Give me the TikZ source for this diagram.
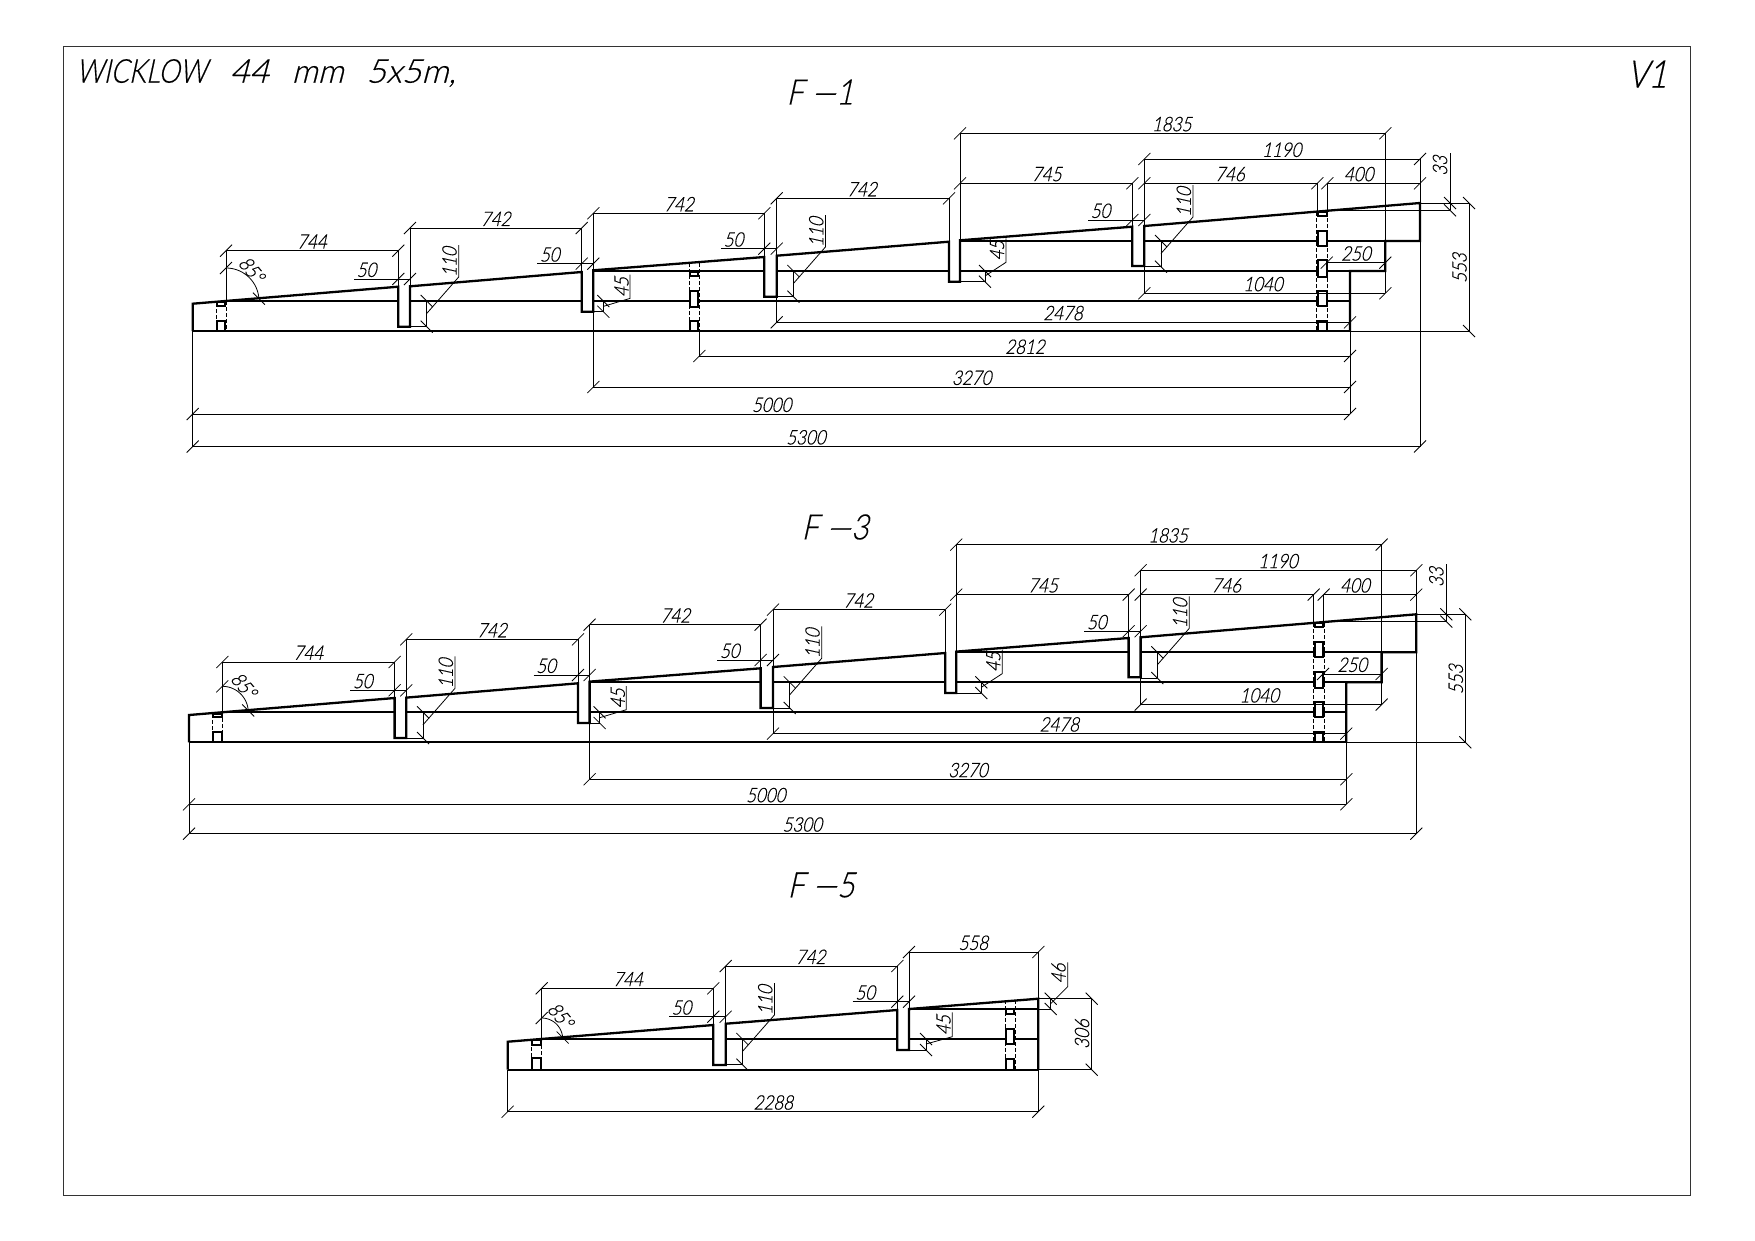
\documentclass[tikz,border=0pt]{standalone}
\usepackage{fontspec}
\usepackage{graphicx}
\newfontfamily\cadfont{Lato Light}[FakeSlant=0.22,FakeStretch=0.85,FakeBold=0.4]
\newcounter{lbl}
\tikzset{
  thinline/.style={line width=0.8pt,black},
  outline/.style={line width=2.3pt,black,line join=miter},
  midline/.style={line width=2pt,black},
  block/.style={line width=2pt,black,fill=white},
  dashline/.style={line width=0.8pt,black,dash pattern=on 3.5pt off 2.5pt},
  dimtext/.style={font=\cadfont\fontsize{20}{20}\selectfont,inner sep=0pt},
  titletext/.style={font=\cadfont\fontsize{35}{35}\selectfont,inner sep=0pt},
}
% tick helpers
\newcommand\tka[2]{\draw[thinline] (#1-6,#2+6) -- (#1+6,#2-6);}
\newcommand\tkb[2]{\draw[thinline] (#1-6,#2-6) -- (#1+6,#2+6);}
% horizontal dimension: x1 x2 y text textx
\newcommand\hd[5]{\draw[thinline] (#1,#3) -- (#2,#3);\tka{#1}{#3}\tka{#2}{#3}\lab{#5}{#3-9.2}{0}{#4}}
% vertical dimension line: x y1 y2
\newcommand\vd[3]{\draw[thinline] (#1,#2) -- (#1,#3);\tkb{#1}{#2}\tkb{#1}{#3}}
% text: x y rotation text
\newcommand\lab[4]{\stepcounter{lbl}\node[dimtext,rotate=#3] (lbl\arabic{lbl}) at (#1,#2) {#4};}
% ext line
\newcommand\vx[3]{\draw[thinline] (#1,#2) -- (#1,#3);}
\newcommand\hx[3]{\draw[thinline] (#2,#1) -- (#3,#1);}
% 110 dimension: notch right x, line y
\newcommand\longdim[2]{%
  \hx{#2+25.7}{#1}{#1+16.7}
  \vd{#1+16.7}{#2}{#2+25.7}
  \draw[thinline] (#1+16.7,#2+12.5) -- (#1+48.7,#2-24) -- (#1+48.7,#2-56);
  \lab{#1+39.5}{#2-39}{90}{110}}
% 50 leader: left x, notch left, notch right, y
\newcommand\fifty[4]{\draw[thinline] (#1,#4) -- (#3,#4);\tka{#2}{#4}\tka{#3}{#4}\lab{#1+12.5}{#4-9.2}{0}{50}}
\newcommand\arcdim[3]{\draw[thinline] plot[domain=0:86,samples=24] ({#1+#3*sin(\x)},{#2-#3*cos(\x)});
  \tka{#1}{#2-#3}\tkb{#1+#3*0.998}{#2-#3*0.07}}

\newcommand\stair{%
  % inner rails
  \draw[midline] (226,301) -- (1350,301);
  \draw[midline] (593.3,271) -- (1385.3,271);
  \draw[midline] (960,241) -- (1420,241);
  \draw[outline] (192.7,331) -- (1350,331);
  % first and last dowel columns
  \draw[dashline] (216,303) -- (216,331) (226,301) -- (226,331);
  \draw[block] (216.7,302.3) rectangle (225.3,306);
  \draw[block] (216.7,320.7) rectangle (225.3,331);
  \draw[dashline] (1316.7,212) -- (1316.7,331) (1327.7,212) -- (1327.7,331);
  \draw[block] (1318.3,211.7) rectangle (1326.7,216);
  \draw[block] (1318.3,230.7) rectangle (1326.7,246);
  \draw[block] (1318.3,260.3) rectangle (1326.7,276.7);
  \draw[block] (1318.3,290.7) rectangle (1326.7,306);
  \draw[block] (1318.3,320.7) rectangle (1326.7,331);
  % notches
  \fill[white] (398.3,286) rectangle (410,326.7);
  \fill[white] (581.7,272) rectangle (593.3,311.7);
  \fill[white] (764.3,257) rectangle (776.7,296.7);
  \fill[white] (949,241) rectangle (960,281.7);
  \fill[white] (1132.3,226.7) rectangle (1144.3,266);
  % profile
  \draw[outline] (192.7,331) -- (192.7,303.7) -- (398.3,286.7) -- (398.3,326.7) -- (410,326.7) -- (410,286.3)
    -- (581.7,272) -- (581.7,311.7) -- (593.3,311.7) -- (593.3,270.3) -- (764.3,257) -- (764.3,296.7)
    -- (776.7,296.7) -- (776.7,255.7) -- (949,241.7) -- (949,281.7) -- (960,281.7) -- (960,240.3)
    -- (1132.3,226.7) -- (1132.3,266) -- (1144.3,266) -- (1144.3,226) -- (1420,203) -- (1420,241)
    -- (1385.3,241) -- (1385.3,271) -- (1350,271) -- (1350,331);
  % extension lines
  \vx{226}{250.7}{301}\vx{398.3}{250.7}{286.7}\vx{410}{228}{286}\vx{581.7}{228}{272}
  \vx{593.3}{213.3}{270}\vx{764.3}{213.3}{257}\vx{776.7}{198.3}{322.3}\vx{949}{198.3}{241.7}
  \vx{960}{133.3}{240}\vx{1132.3}{183.3}{226.7}\vx{1144.3}{159}{226}\vx{1144.3}{266}{293.3}
  \vx{1317.3}{183.3}{212}\vx{1327.3}{183.3}{212}\vx{1420}{159}{203}\vx{1385.3}{133.3}{241}\vx{1385.3}{271}{293.3}
  % top dimensions
  \hd{226}{398.3}{250.7}{744}{312}
  \hd{410}{581.7}{228}{742}{495.7}
  \hd{593.3}{764.3}{213.3}{742}{679}
  \hd{776.7}{949}{198.3}{742}{862}
  \hd{960}{1132.3}{183.3}{745}{1046.7}
  \hd{1144.3}{1317.3}{183.3}{746}{1230}
  \hd{1327.3}{1420}{183.3}{400}{1358.7}
  \hd{1144.3}{1420}{159}{1190}{1281.7}
  \hd{960}{1385.3}{133.3}{1835}{1171.7}
  \hd{1144.3}{1385.3}{293.3}{1040}{1263}
  \hd{1326.7}{1385.3}{262.7}{250}{1356}
  \hd{776.7}{1350}{322.3}{2478}{1063}
  % notch dims
  \fifty{354}{398.3}{410}{279}
  \fifty{537.3}{581.7}{593.3}{263.7}
  \fifty{721}{764.3}{776.7}{248.7}
  \fifty{1088}{1132.3}{1144.3}{220}
  \longdim{410}{301}\longdim{776.7}{271}\longdim{1144.3}{241}
  % 45
  \hx{311.7}{593.3}{603.3}\vd{603.3}{301}{311.7}
  \draw[thinline] (603.3,306.4) -- (630,298.4) -- (630,274.7);
  \lab{621.5}{287}{90}{45}
  \hx{281.7}{960}{985}\vd{985}{271}{281.7}
  \draw[thinline] (985,276) -- (1006,262.3) -- (1006,238.3);
  \lab{997}{250.5}{90}{45}
  % 33 and 553
  \hx{203}{1420}{1469}\hx{210.3}{1326}{1450}\hx{331}{1350}{1469}
  \vd{1450}{203}{210.3}\draw[thinline] (1450,203) -- (1450,152.7);
  \lab{1440}{165.7}{90}{33}
  \vd{1469}{203}{331}\lab{1459.5}{268}{90}{553}
  % left/right long extension
  \vx{1350}{331}{322.3}
}
\begin{document}
\begin{tikzpicture}[x=1pt,y=-1pt]
\useasboundingbox (0,0) rectangle (1755,1240);
\fill[white] (0,0) rectangle (1755,1240);
\draw[line width=1pt,black!80] (63,46) rectangle (1690,1195);
\lab{266}{73}{0}{\cadfont\fontsize{33}{33}\selectfont \scalebox{.96}[1]{WICKLOW}\ \ \ \scalebox{1.2}[1]{44}\ \ \ \scalebox{1.15}[1]{mm}\ \ \ \scalebox{1.2}[1]{5x5m,}}
\lab{1647}{74}{0}{\cadfont\fontsize{38}{38}\selectfont V1}
\node[titletext] (tone) at (820,92) {F\hspace{1pt}\scalebox{2.8}[1]{-}\hspace{1pt}1};
\node[titletext] (ttwo) at (835,527) {F\hspace{1pt}\scalebox{2.8}[1]{-}\hspace{1pt}3};
\node[titletext] (tthree) at (821,885) {F\hspace{1pt}\scalebox{2.8}[1]{-}\hspace{1pt}5};

% ---- F-1
\stair
\draw[dashline] (689,263) -- (689,331) (699.3,263) -- (699.3,331);
\draw[block] (690,272) rectangle (698.3,276);
\draw[block] (690,290.7) rectangle (698.3,306.7);
\draw[block] (690,320.7) rectangle (698.3,331);
\hd{699.3}{1350}{356}{2812}{1025}\vx{699.3}{331}{356}
\hd{593.3}{1350}{387}{3270}{971.7}\vx{593.3}{311}{387}
\hd{192.7}{1350}{414}{5000}{771.7}
\hd{192.7}{1420}{446.5}{5300}{806}
\vx{192.7}{331}{446.5}\vx{1350}{331}{414}\vx{1420}{241}{446.5}
\arcdim{226}{301}{33}
\lab{251.5}{269.5}{-50}{85°}

% ---- F-3
\begin{scope}[shift={(-3.7,411.3)}]
\stair
\hd{593.3}{1350}{368}{3270}{971.7}\vx{593.3}{311}{368}
\hd{192.7}{1350}{393}{5000}{769.5}
\hd{192.7}{1420}{422.4}{5300}{806}
\vx{192.7}{331}{422.4}\vx{1350}{331}{393}\vx{1420}{241}{422.4}
\arcdim{226}{301}{26}
\lab{247.5}{274}{-50}{85°}
\end{scope}

% ---- F-5
\draw[midline] (541.7,1039.3) -- (1038.3,1039.3);
\draw[midline] (909,1009) -- (1038.3,1009);
\draw[outline] (507.7,1069.7) -- (1038.3,1069.7);
\draw[dashline] (531.7,1041) -- (531.7,1069) (541.7,1039) -- (541.7,1069);
\draw[block] (532.3,1040) rectangle (540.7,1045);
\draw[block] (532.3,1058.3) rectangle (540.7,1069.7);
\draw[dashline] (1005,1000) -- (1005,1069) (1015,1000) -- (1015,1069);
\draw[block] (1006,1009.3) rectangle (1014,1014.3);
\draw[block] (1006,1029) rectangle (1014,1044.3);
\draw[block] (1006,1059) rectangle (1014,1069.7);
\fill[white] (713.3,1025) rectangle (725.7,1065);
\fill[white] (897.3,1010) rectangle (909,1050);
\draw[outline] (507.7,1069.7) -- (507.7,1041.7) -- (713.3,1025) -- (713.3,1065) -- (725.7,1065) -- (725.7,1023.7)
  -- (897.3,1010) -- (897.3,1050) -- (909,1050) -- (909,1009) -- (1038.3,998.7) -- (1038.3,1069.7);
\vx{541.7}{988.3}{1039}\vx{713.3}{988.3}{1025}\vx{725.7}{966}{1024}\vx{897.3}{966}{1010}
\vx{909}{952}{1009}\vx{1038.3}{952}{998.7}\vx{1038.3}{1069.7}{1111.7}\vx{507.7}{1069.7}{1111.7}
\hd{541.7}{713.3}{988.3}{744}{628}
\hd{725.7}{897.3}{966}{742}{810.7}
\hd{909}{1038.3}{952}{558}{973.3}
\hd{507.7}{1038.3}{1111.7}{2288}{773.3}
\fifty{669}{713.3}{725.7}{1016.7}
\fifty{852.7}{897.3}{909}{1001.7}
\longdim{725.7}{1039}
\hx{1050}{909}{926}\vd{926}{1039}{1050}
\draw[thinline] (926,1044) -- (952.3,1036.7) -- (952.3,1012.3);
\lab{943.5}{1025}{90}{45}
\hx{998.7}{1038.3}{1091.7}\hx{1009}{1038.3}{1051}\hx{1069.7}{1038.3}{1091.7}
\vd{1050.7}{998.7}{1009}
\draw[thinline] (1050.7,1003.7) -- (1067.7,986.7) -- (1067.7,962.3);
\lab{1058.5}{973.3}{90}{46}
\vd{1091.7}{998.7}{1069.7}\lab{1082}{1034}{90}{306}
\arcdim{541.7}{1039}{21}
\lab{560.5}{1015.5}{-50}{85°}
\end{tikzpicture}
\end{document}
